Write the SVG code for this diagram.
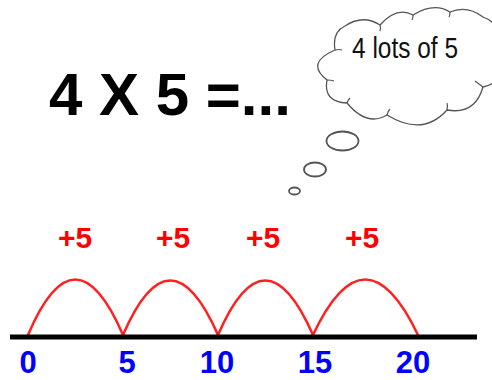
<svg xmlns="http://www.w3.org/2000/svg" width="492" height="380" viewBox="0 0 492 380">
<style>
.title{font-family:"Liberation Sans",Arial,sans-serif;font-weight:bold;font-size:60px;fill:#000}
.jump{font-family:"Liberation Sans",Arial,sans-serif;font-weight:bold;font-size:30px;fill:#ff0000;text-anchor:middle}
.num{font-family:"Liberation Sans",Arial,sans-serif;font-weight:bold;font-size:31px;fill:#0000ff;text-anchor:middle}
.cloudtxt{font-family:"Liberation Sans",Arial,sans-serif;font-size:29px;fill:#111}
.cloud{fill:#fff;stroke:#555;stroke-width:1.3;stroke-linejoin:round}
.bub{fill:#fff;stroke:#555;stroke-width:1.8}
.arc{fill:none;stroke:#ff2020;stroke-width:2.5;stroke-linecap:round}
</style>
<rect width="492" height="380" fill="#fff"/>
<g id="title"><text class="title" x="49" y="115">4 X 5 =...</text></g>
<g id="thought">
<path class="cloud" d="M327,80 Q305,63 335,50 Q332,32 345,26 Q363,14 380,25 Q397,6 413,15 Q434,2 450,12 Q467,5 483,17 Q505,25 500,55 Q510,80 483,87 Q475,115 447,110 Q423,137 387,115 Q367,127 347,103 Q323,102 327,80 Z"/>
<path fill="none" stroke="#555" stroke-width="1.2" d="M335,50 q4,-1 7,0 M380,25 q1,3 0,6 M413,15 q0,3 -1,5 M450,12 q0,3 -1,5 M483,87 q-4,-3 -8,-6 M447,110 q1,-4 0,-7 M387,115 q1,-4 3,-6 M347,103 q1,-3 3,-5 M327,80 q4,0 7,1"/>
<text class="cloudtxt" x="352" y="58" textLength="106" lengthAdjust="spacingAndGlyphs">4 lots of 5</text>
<ellipse class="bub" cx="342.5" cy="141" rx="16" ry="9.5"/>
<ellipse class="bub" cx="315" cy="169.5" rx="11" ry="7"/>
<ellipse class="bub" cx="294.5" cy="191" rx="5.5" ry="3.5"/>
</g>
<g id="jumps">
<path class="arc" d="M28,335 Q75,224 123,335"/>
<path class="arc" d="M123,335 Q170,226 218,335"/>
<path class="arc" d="M218,335 Q265,226 313,335"/>
<path class="arc" d="M313,335 Q365,224 418,335"/>
<text class="jump" x="75" y="248">+5</text>
<text class="jump" x="173" y="248">+5</text>
<text class="jump" x="263" y="248">+5</text>
<text class="jump" x="362" y="248">+5</text>
</g>
<g id="numberline">
<line x1="10" y1="337" x2="477" y2="337" stroke="#000" stroke-width="5"/>
<text class="num" x="28" y="373">0</text>
<text class="num" x="127" y="373">5</text>
<text class="num" x="217" y="373">10</text>
<text class="num" x="315" y="373">15</text>
<text class="num" x="413" y="373">20</text>
</g>
</svg>
